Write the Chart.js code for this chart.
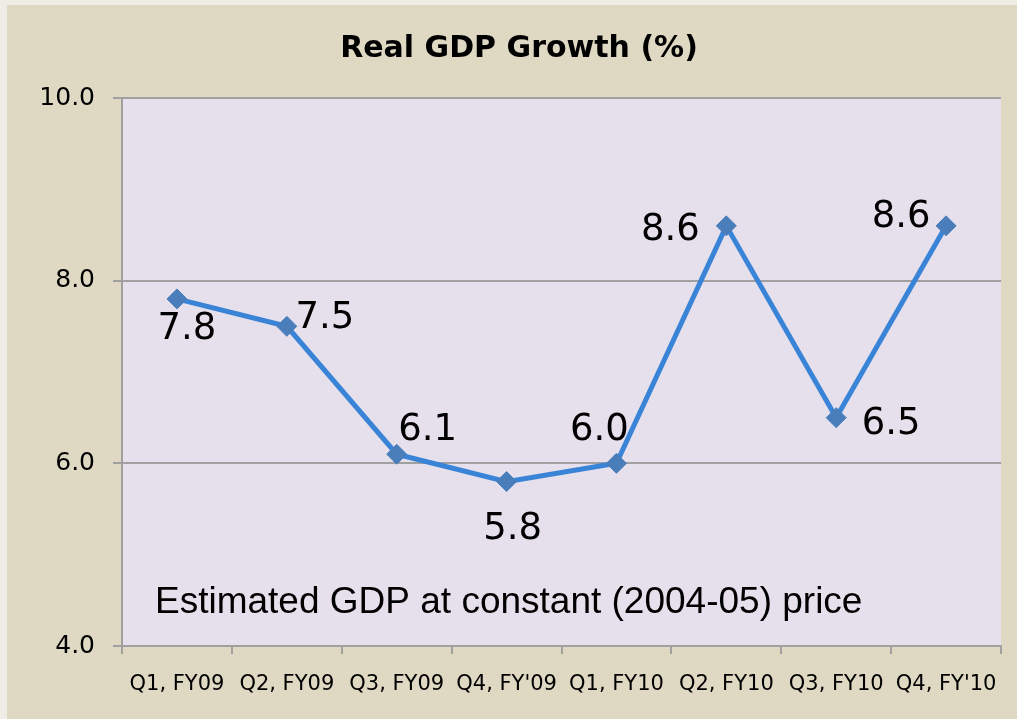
<!DOCTYPE html>
<html>
<head>
<meta charset="utf-8">
<script src="https://cdn.jsdelivr.net/npm/chart.js@4/dist/chart.umd.min.js"></script>
<style>
    html, body { margin: 0; padding: 0; background: #eeede6; }
    #wrap { position: absolute; left: 7px; top: 5px; width: 1010px; height: 714px; background: #dfd9c3; }
</style>
</head>
<body>
<div id="wrap"><canvas id="gdp"></canvas></div>
<script>
// Quarterly real GDP growth (%)
const quarters = ['Q1, FY09', 'Q2, FY09', 'Q3, FY09', "Q4, FY'09", 'Q1, FY10', 'Q2, FY10', 'Q3, FY10', "Q4, FY'10"];
const growth = [7.8, 7.5, 6.1, 5.8, 6.0, 8.6, 6.5, 8.6];
const yTicks = [4, 6, 8, 10];

const chartTitle = 'Real GDP Growth (%)';
const note = 'Estimated GDP at constant (2004-05) price';

// where each value label sits, relative to its point (text centre)
const labelOffsets = [[10, 27], [38, -11], [31, -27], [6, 44], [-17, -36], [-56, 1], [55, 3], [-45, -12]];

const GRID = '#a0a0a0';

// plot background, title, value labels and the footnote
const decorPlugin = {
    id: 'decor',
    beforeDraw(chart) {
        const { ctx, chartArea: a } = chart;
        ctx.save();
        ctx.fillStyle = '#e5e0ec';
        ctx.fillRect(a.left, a.top, a.right - a.left, a.bottom - a.top);
        ctx.restore();
    },
    afterDatasetsDraw(chart) {
        const { ctx, chartArea: a } = chart;
        ctx.save();
        ctx.fillStyle = '#000';

        ctx.font = 'bold 30px "DejaVu Sans"';
        ctx.textAlign = 'center';
        ctx.textBaseline = 'alphabetic';
        ctx.fillText(chartTitle, 512, 52);

        ctx.font = '37px "DejaVu Sans"';
        const meta = chart.getDatasetMeta(0);
        meta.data.forEach((pt, i) => {
            const [dx, dy] = labelOffsets[i];
            ctx.fillText(growth[i].toFixed(1), pt.x + dx, pt.y + dy + 13);
        });

        ctx.font = '37px "Liberation Sans"';
        ctx.textAlign = 'left';
        ctx.fillText(note, a.left + 33, a.bottom - 33);
        ctx.restore();
    },
};

new Chart(document.getElementById('gdp'), {
    type: 'line',
    data: {
        labels: quarters,
        datasets: [{
            data: growth,
            borderColor: '#3a84d8',
            borderWidth: 5,
            pointStyle: 'rectRot',
            pointRadius: 10,
            pointHoverRadius: 10,
            pointBackgroundColor: '#4a7ebb',
            pointBorderColor: '#4a7ebb',
            pointBorderWidth: 1,
            tension: 0,
            clip: false,
        }],
    },
    options: {
        responsive: true,
        maintainAspectRatio: false,
        animation: false,
        events: [],
        layout: { padding: { top: 93, right: 16, left: 0, bottom: 0 } },
        plugins: {
            legend: { display: false },
            title: { display: false },
            tooltip: { enabled: false },
        },
        scales: {
            x: {
                offset: true,
                grid: {
                    offset: true,
                    drawOnChartArea: false,
                    color: GRID,
                    lineWidth: 2,
                    tickLength: 8,
                },
                border: { color: GRID, width: 2 },
                ticks: {
                    color: '#000',
                    font: { family: 'DejaVu Sans', size: 21 },
                    padding: 18,
                    maxRotation: 0,
                    autoSkip: false,
                },
                afterFit(scale) { scale.height = 73; },
            },
            y: {
                min: 4,
                max: 10,
                afterBuildTicks(scale) { scale.ticks = yTicks.map(v => ({ value: v })); },
                grid: { color: GRID, lineWidth: 2, tickLength: 9 },
                border: { color: GRID, width: 2 },
                ticks: {
                    color: '#000',
                    font: { family: 'DejaVu Sans', size: 25 },
                    padding: 18,
                    callback: v => Number(v).toFixed(1),
                },
                afterFit(scale) { scale.width = 115; },
            },
        },
    },
    plugins: [decorPlugin],
});
</script>
</body>
</html>
